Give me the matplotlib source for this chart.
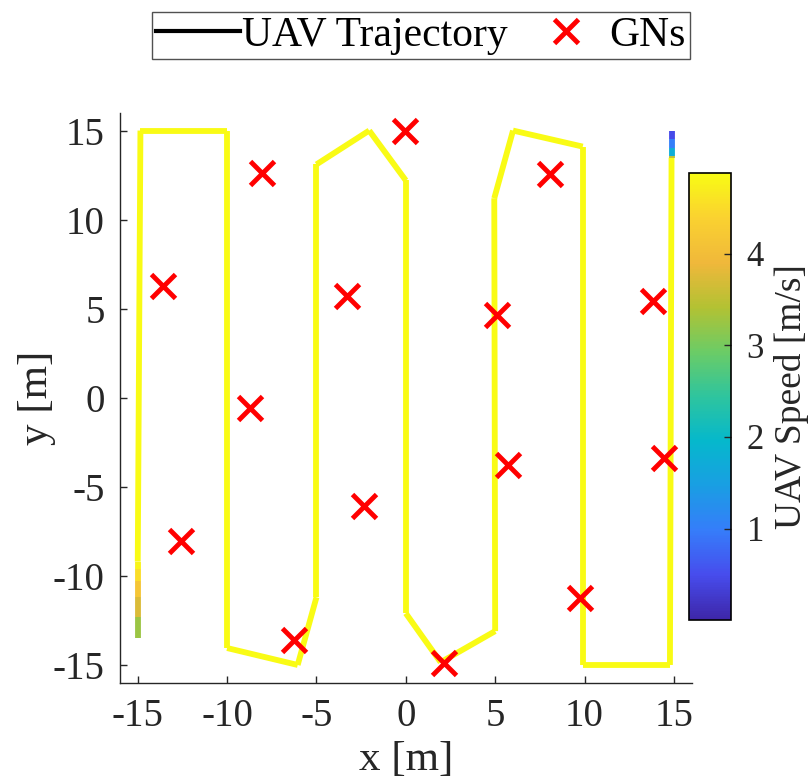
import numpy as np
import matplotlib.pyplot as plt
from matplotlib.collections import LineCollection
from matplotlib.colors import LinearSegmentedColormap, Normalize
from matplotlib.lines import Line2D
import matplotlib.cm as cm

plt.rcParams['font.family'] = ['Liberation Serif', 'DejaVu Serif']
plt.rcParams['axes.unicode_minus'] = False

# UAV trajectory waypoints (m) and speed at each waypoint (m/s)
traj_x = [-15.0, -15.0, -15.0, -15.0, -15.0, -15.0, -14.85, -10.0, -10.0, -6.05, -5.0,
          -5.0, -2.05, 0.0, 0.0, 1.95, 5.0, 4.95, 6.0, 9.9, 9.9, 14.78, 14.87,
          14.87, 14.87, 14.87, 14.87]
traj_y = [-13.5, -12.3, -11.2, -10.3, -9.6, -9.2, 15.0, 15.0, -14.05, -15.0, -11.2,
          13.1, 15.0, 12.2, -12.1, -14.85, -13.1, 11.2, 15.0, 14.1, -15.0, -15.0, 13.47,
          13.55, 14.0, 14.5, 15.0]
traj_v = [3.0, 3.5, 3.95, 4.35, 4.7, 4.88, 4.88, 4.88, 4.88, 4.88, 4.88,
          4.88, 4.88, 4.88, 4.88, 4.88, 4.88, 4.88, 4.88, 4.88, 4.88, 4.88, 4.88,
          2.2, 1.3, 0.7, 0.25]

# ground node positions (m)
gn_x = [-13.6, -8.03, -8.74, -12.6, -6.27, -3.27, -2.32, -0.03, 5.11, 5.73,
        2.11, 8.07, 13.83, 14.44, 9.75]
gn_y = [6.3, 12.62, -0.56, -8.03, -13.6, 5.73, -6.07, 14.96, 4.66, -3.76,
        -14.87, 12.58, 5.45, -3.37, -11.25]

v_max = 4.88

# approximation of MATLAB parula
parula_pts = [
    (0.00, (0.2422, 0.1504, 0.6603)),
    (0.10, (0.2780, 0.3000, 0.9300)),
    (0.20, (0.2100, 0.4900, 0.9800)),
    (0.30, (0.1000, 0.6200, 0.8900)),
    (0.40, (0.0200, 0.7200, 0.8000)),
    (0.50, (0.1800, 0.7700, 0.6200)),
    (0.60, (0.4200, 0.8000, 0.4000)),
    (0.70, (0.7000, 0.7600, 0.2000)),
    (0.80, (0.9400, 0.7200, 0.2300)),
    (0.90, (0.9800, 0.8200, 0.1900)),
    (1.00, (0.9769, 0.9839, 0.0805)),
]
parula = LinearSegmentedColormap.from_list('parula', parula_pts)
norm = Normalize(vmin=0, vmax=v_max)

fig = plt.figure(figsize=(8.1, 7.83), dpi=100)
ax = fig.add_axes([0.148, 0.128, 0.706, 0.728])

pts = np.column_stack([traj_x, traj_y])
segs = np.stack([pts[:-1], pts[1:]], axis=1)
seg_v = (np.array(traj_v[:-1]) + np.array(traj_v[1:])) / 2
lc = LineCollection(segs, cmap=parula, norm=norm, linewidths=4.2,
                    capstyle='butt', joinstyle='miter')
lc.set_array(seg_v)
ax.add_collection(lc)

ax.plot(gn_x, gn_y, 'x', color='red', markersize=17, markeredgewidth=3.5, zorder=3)

ax.set_xlim(-16, 16)
ax.set_ylim(-16, 16)
ax.set_xticks([-15, -10, -5, 0, 5, 10, 15])
ax.set_yticks([-15, -10, -5, 0, 5, 10, 15])
ax.spines['top'].set_visible(False)
ax.spines['right'].set_visible(False)
for s in ['left', 'bottom']:
    ax.spines[s].set_color('#262626')
    ax.spines[s].set_linewidth(1.0)
ax.tick_params(direction='in', length=5, width=1.0, colors='#262626',
               labelsize=28, labelcolor='#262626', pad=11)
ax.set_xlabel('x [m]', fontsize=31, color='#262626', labelpad=4)
ax.set_ylabel('y [m]', fontsize=31, color='#262626', labelpad=-2)

handles = [Line2D([], [], color='black', lw=3),
           Line2D([], [], color='red', marker='x', ls='none', markersize=17,
                  markeredgewidth=3.5)]
leg = fig.legend(handles, ['UAV Trajectory', 'GNs'], loc='center',
                 bbox_to_anchor=(0.52, 0.9545), ncol=2, fontsize=30,
                 frameon=True, fancybox=False, edgecolor='#262626',
                 handlelength=2.0, handletextpad=0.05, columnspacing=0.4,
                 borderpad=0.1, borderaxespad=0.0)
leg.get_frame().set_linewidth(1.0)

cax = fig.add_axes([0.851, 0.208, 0.052, 0.571])
sm = cm.ScalarMappable(norm=norm, cmap=parula)
cb = fig.colorbar(sm, cax=cax)
cb.set_ticks([1, 2, 3, 4])
cb.ax.tick_params(direction='in', length=5, width=1.0, labelsize=25,
                  colors='#262626', pad=11)
cb.outline.set_linewidth(1.2)
cb.set_label('UAV Speed [m/s]', fontsize=27, color='#262626', labelpad=7)

fig.savefig('out.png', dpi=100)
